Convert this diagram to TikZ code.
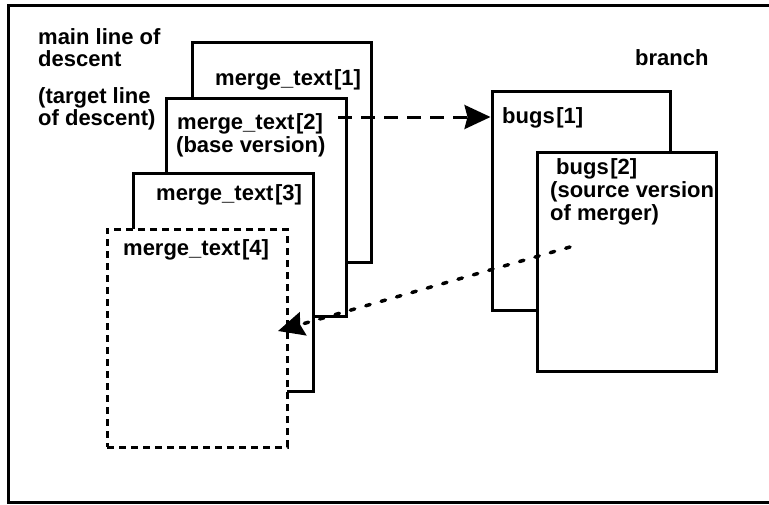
\documentclass[tikz,border=0pt]{standalone}
\usepackage{fontspec}
\setmainfont{Liberation Sans}
\usetikzlibrary{arrows.meta,fit}
\newcommand\sheetfont{\fontsize{22}{26}\selectfont\bfseries}
\begin{document}
\begin{tikzpicture}[x=1pt,y=-1pt,
  sheet/.style={draw, rectangle, line width=3pt, fill=white, inner sep=0pt},
  draftsheet/.style={sheet, dash pattern=on 7pt off 5pt},
  lbl/.style={anchor=base west, inner sep=0pt, font=\sheetfont},
  bigtip/.style={-{Stealth[length=26pt,width=24pt,inset=3pt]}},
  flow/.style={line width=3pt, dash pattern=on 14pt off 9pt, bigtip},
  mergeflow/.style={line width=3.5pt, line cap=round, dash pattern=on 4.5pt off 11.5pt, bigtip}]
\useasboundingbox (0,0) rectangle (769,504);
\fill[white] (0,0) rectangle (769,504);

% outer frame (open on the right)
\draw[line width=3pt] (769,5) -- (8,5) -- (8,502) -- (769,502);

% headings
\node[lbl] (h1) at (38,44) {main line of};
\node[lbl] (h2) at (38,66) {descent};
\node[lbl] (h3) at (38,103) {(target line};
\node[lbl] (h4) at (38,125) {of descent)};
\node[lbl] (h5) at (635,65) {branch};

% main line of descent
\node[sheet, fit={(192,42) (371,262)}] (p1) {};
\node[lbl] (t1) at (215,85) {merge\_text\kern1.5pt[1]};
\node[sheet, fit={(166,98) (346,316)}] (p2) {};
\node[lbl] (t2) at (177,129) {merge\_text\kern1.5pt[2]};
\node[lbl] (t2b) at (176,152) {(base version)};
\node[sheet, fit={(133,173) (313,391)}] (p3) {};
\node[lbl] (t3) at (156,200) {merge\_text\kern1.5pt[3]};
\node[draftsheet, fit={(107,229) (287,447)}] (p4) {};
\node[lbl] (t4) at (123,255) {merge\_text\kern1.5pt[4]};

% branch
\node[sheet, fit={(492,91) (670,310)}] (b1) {};
\node[lbl] (u1) at (502,123) {bugs\kern1.5pt[1]};
\node[sheet, fit={(537,152) (716,371)}] (b2) {};
\node[lbl] (u2) at (556,174) {bugs\kern1.5pt[2]};
\node[lbl] (u2b) at (550,197) {(source version};
\node[lbl] (u2c) at (550,220) {of merger)};

% connectors
\coordinate (a0) at (338,117);
\draw[flow] (a0) -- (b1.west |- a0);
\coordinate (m0) at (570,247);
\coordinate (m1) at (278,331);
\draw[mergeflow] (m0) -- (m1);
\end{tikzpicture}
\end{document}
